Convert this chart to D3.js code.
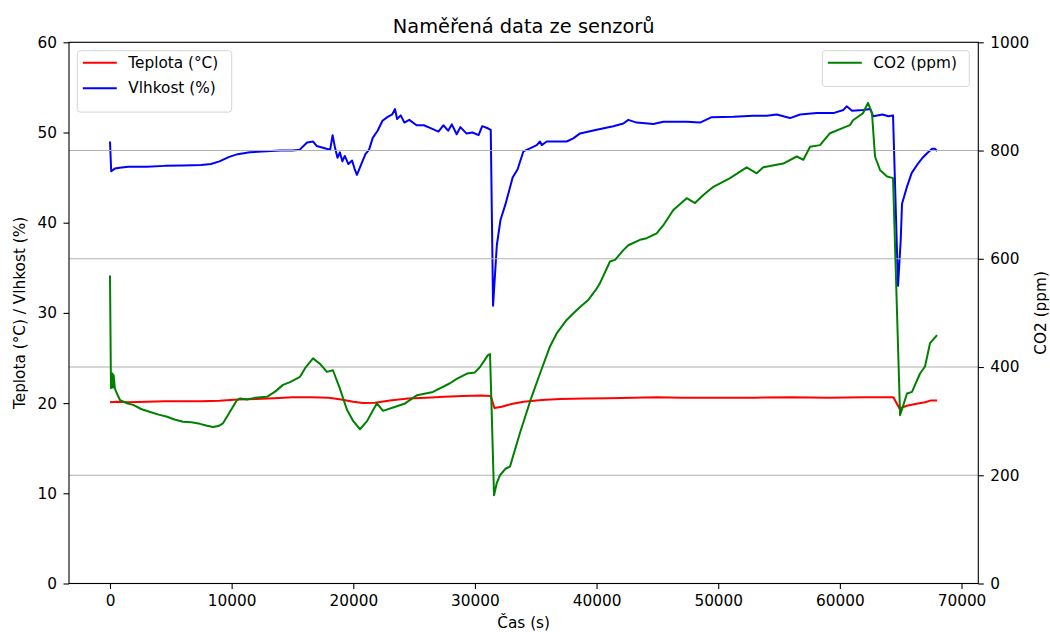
<!DOCTYPE html>
<html>
<head>
<meta charset="utf-8">
<script src="https://cdn.jsdelivr.net/npm/d3@7"></script>
<style>
  html, body { margin: 0; padding: 0; background: #ffffff; }
  svg { display: block; font-family: "DejaVu Sans", sans-serif; }
</style>
</head>
<body>
<svg id="chart" width="1050" height="632"></svg>
<script>
// Sensor log: time (s) and measured value
const teplota = [
  [0,20.1],[600,20.15],[1500,20.1],[3000,20.15],[4500,20.2],[6000,20.2],[7500,20.2],[9000,20.25],
  [10500,20.4],[12000,20.45],[13500,20.55],[15000,20.65],[16500,20.65],[18000,20.6],[19000,20.4],
  [20000,20.15],[20800,20.0],[21800,20.05],[23000,20.3],[24500,20.5],[26000,20.6],[27500,20.7],
  [29000,20.8],[30500,20.85],[31300,20.8],[31600,19.45],[32200,19.6],[33000,19.9],[34000,20.15],
  [35500,20.35],[37000,20.45],[39000,20.5],[41000,20.55],[43000,20.6],[45000,20.65],[47000,20.6],
  [50000,20.6],[53000,20.6],[56000,20.65],[59000,20.6],[62000,20.65],[64400,20.65],[64900,19.4],
  [65500,19.7],[66200,19.9],[67000,20.1],[67500,20.3],[68000,20.3]
];

const vlhkost = [
  [0,49.0],[100,45.7],[400,46.0],[800,46.1],[1500,46.2],[3000,46.2],[4500,46.3],[6000,46.35],
  [7500,46.4],[8300,46.5],[9000,46.8],[9800,47.3],[10500,47.6],[11500,47.8],[12500,47.9],[14000,48.0],
  [15000,48.0],[15600,48.1],[16200,48.9],[16700,49.0],[17000,48.5],[17800,48.2],[18100,48.1],
  [18300,49.7],[18500,48.3],[18700,47.2],[18900,47.8],[19100,46.8],[19300,47.4],[19600,46.5],
  [19900,46.9],[20100,46.0],[20300,45.3],[20600,46.3],[21000,47.6],[21300,48.1],[21600,49.4],
  [22000,50.2],[22400,51.3],[22800,51.7],[23200,52.0],[23430,52.6],[23600,51.5],[23900,51.9],
  [24200,51.1],[24600,51.4],[25200,50.8],[25800,50.8],[26500,50.4],[27000,50.1],[27400,50.8],
  [27800,50.2],[28100,50.9],[28500,49.8],[28800,50.6],[29300,49.9],[29800,50.0],[30300,49.7],
  [30600,50.7],[31000,50.5],[31300,50.3],[31490,30.8],[31800,37.5],[32100,40.3],[32500,42.0],
  [33100,45.0],[33500,45.9],[33980,47.9],[34530,48.25],[35080,48.6],[35350,49.0],[35490,48.6],
  [35900,49.0],[37540,49.0],[38090,49.35],[38640,49.9],[40010,50.3],[41380,50.7],[42200,51.0],
  [42610,51.4],[43300,51.1],[44670,50.95],[45490,51.2],[47410,51.2],[48510,51.1],[49460,51.7],
  [51250,51.75],[52890,51.85],[53990,51.85],[54810,52.0],[55900,51.6],[56730,52.0],[58100,52.15],
  [59460,52.15],[60290,52.5],[60560,52.9],[61000,52.4],[61900,52.5],[62500,52.6],[62750,51.8],
  [63500,52.0],[64000,51.8],[64370,51.9],[64780,33.0],[65000,38.0],[65110,42.1],[65520,44.0],
  [65900,45.5],[66340,46.4],[66800,47.2],[67170,47.7],[67580,48.2],[67800,48.2],[67990,47.95]
];

const co2 = [
  [0,569],[80,361],[200,388],[250,362],[300,385],[400,360],[575,351],[822,339],[1400,333],
  [1900,330],[2600,322],[3300,317],[4000,312],[4700,308],[5300,303],[6000,299],[6700,298],
  [7400,295],[7900,292],[8470,289],[8900,291],[9290,296],[9800,315],[10440,339],[10700,342],
  [11260,340],[11900,343],[12900,345],[13600,355],[14220,367],[14800,372],[15620,382],[16100,400],
  [16690,416],[17300,405],[17840,391],[18330,394],[18900,360],[19480,321],[20000,300],[20550,285],
  [21130,300],[21620,320],[21950,333],[22440,319],[23400,326],[24200,332],[25240,348],[26550,354],
  [27950,370],[28500,378],[29350,388],[30000,390],[30420,400],[31070,422],[31240,424],[31400,300],
  [31570,163],[31800,186],[32060,200],[32500,212],[32880,216],[33700,278],[34660,345],[35350,388],
  [36170,438],[36720,462],[37540,487],[37950,496],[38640,511],[39320,524],[40010,545],[40280,555],
  [41100,595],[41520,598],[42200,616],[42610,625],[43570,635],[44120,638],[44940,647],[45490,662],
  [46310,690],[47410,712],[48090,703],[48780,718],[49600,733],[50970,749],[52340,769],[53160,758],
  [53710,769],[55350,776],[56450,789],[57000,783],[57550,807],[58370,810],[59190,832],[60260,842],
  [60830,847],[61080,856],[61900,869],[62310,888],[62640,869],[62890,789],[63300,764],[63880,752],
  [64370,749],[64950,311],[65520,351],[65930,354],[66590,388],[67000,401],[67410,444],[67990,459]
];

const xTicks = [0, 10000, 20000, 30000, 40000, 50000, 60000, 70000];
const leftTicks = [0, 10, 20, 30, 40, 50, 60];
const rightTicks = [0, 200, 400, 600, 800, 1000];

const svg = d3.select("#chart");
const plotLeft = 69, plotRight = 978.3, plotTop = 42.3, plotBottom = 583.5;
const fontPx = 15.3, titlePx = 19.4;

const x = d3.scaleLinear().domain([-3370, 71380]).range([plotLeft, plotRight]);
const yL = d3.scaleLinear().domain([0, 60]).range([plotBottom, plotTop]);
const yR = d3.scaleLinear().domain([0, 1000]).range([plotBottom, plotTop]);

svg.append("rect").attr("width", 1050).attr("height", 632).attr("fill", "#ffffff");

svg.append("clipPath").attr("id", "plot-clip")
  .append("rect").attr("x", plotLeft).attr("y", plotTop)
  .attr("width", plotRight - plotLeft).attr("height", plotBottom - plotTop);

const lineL = d3.line().x(d => x(d[0])).y(d => yL(d[1]));
const lineR = d3.line().x(d => x(d[0])).y(d => yR(d[1]));

const plot = svg.append("g").attr("clip-path", "url(#plot-clip)");

// primary axis lines
plot.append("path").datum(teplota).attr("d", lineL)
  .attr("fill", "none").attr("stroke", "#ff0000").attr("stroke-width", 2).attr("stroke-linejoin", "round");
plot.append("path").datum(vlhkost).attr("d", lineL)
  .attr("fill", "none").attr("stroke", "#0000ff").attr("stroke-width", 2).attr("stroke-linejoin", "round");

// secondary axis grid
plot.append("g").selectAll("line").data(rightTicks).join("line")
  .attr("x1", plotLeft).attr("x2", plotRight)
  .attr("y1", d => yR(d)).attr("y2", d => yR(d))
  .attr("stroke", "#b0b0b0").attr("stroke-width", 1.1);

plot.append("path").datum(co2).attr("d", lineR)
  .attr("fill", "none").attr("stroke", "#008000").attr("stroke-width", 2).attr("stroke-linejoin", "round");

// axes
const tickLen = 5.5, pad = 6.5;
const axStyle = g => {
  g.select(".domain").remove();
  g.selectAll(".tick line").attr("stroke", "#000").attr("stroke-width", 1.1);
  g.selectAll(".tick text").attr("fill", "#000").attr("font-size", fontPx)
    .attr("font-family", "DejaVu Sans, sans-serif");
};

svg.append("g").attr("transform", `translate(0,${plotBottom})`)
  .call(d3.axisBottom(x).tickValues(xTicks).tickFormat(d3.format("d")).tickSize(tickLen).tickPadding(pad))
  .call(axStyle);
svg.append("g").attr("transform", `translate(${plotLeft},0)`)
  .call(d3.axisLeft(yL).tickValues(leftTicks).tickFormat(d3.format("d")).tickSize(tickLen).tickPadding(pad))
  .call(axStyle);
svg.append("g").attr("transform", `translate(${plotRight},0)`)
  .call(d3.axisRight(yR).tickValues(rightTicks).tickFormat(d3.format("d")).tickSize(tickLen).tickPadding(pad))
  .call(axStyle);

// spines
svg.append("rect").attr("x", plotLeft).attr("y", plotTop)
  .attr("width", plotRight - plotLeft).attr("height", plotBottom - plotTop)
  .attr("fill", "none").attr("stroke", "#000").attr("stroke-width", 1.1);

// titles
const midX = (plotLeft + plotRight) / 2, midY = (plotTop + plotBottom) / 2;
svg.append("text").attr("x", midX).attr("y", 32.5).attr("text-anchor", "middle")
  .attr("font-size", titlePx).attr("fill", "#000").text("Naměřená data ze senzorů");
svg.append("text").attr("x", midX).attr("y", 622.5).attr("text-anchor", "middle")
  .attr("dominant-baseline", "central").attr("font-size", fontPx).attr("fill", "#000").text("Čas (s)");
svg.append("text").attr("transform", `translate(19.5,${midY}) rotate(-90)`)
  .attr("text-anchor", "middle").attr("dominant-baseline", "central")
  .attr("font-size", fontPx).attr("fill", "#000").text("Teplota (°C) / Vlhkost (%)");
svg.append("text").attr("transform", `translate(1040.5,${midY}) rotate(-90)`)
  .attr("text-anchor", "middle").attr("dominant-baseline", "central")
  .attr("font-size", fontPx).attr("fill", "#000").text("CO2 (ppm)");

// legends
function legend(x0, y0, w, items) {
  const g = svg.append("g");
  const h = 8 + items.length * 25.7 + 2;
  g.append("rect").attr("x", x0).attr("y", y0).attr("width", w).attr("height", h)
    .attr("rx", 3).attr("fill", "rgba(255,255,255,0.8)").attr("stroke", "#d6d6d6").attr("stroke-width", 1);
  items.forEach((it, i) => {
    const cy = y0 + 12 + i * 25.6;
    g.append("line").attr("x1", x0 + 5.5).attr("x2", x0 + 39.5).attr("y1", cy).attr("y2", cy)
      .attr("stroke", it.color).attr("stroke-width", 2);
    g.append("text").attr("x", x0 + 51).attr("y", cy).attr("dominant-baseline", "central")
      .attr("font-size", fontPx).attr("fill", "#000").text(it.label);
  });
}
legend(77.3, 50.7, 154.4, [
  { label: "Teplota (°C)", color: "#ff0000" },
  { label: "Vlhkost (%)", color: "#0000ff" }
]);
legend(822.3, 50.7, 147, [
  { label: "CO2 (ppm)", color: "#008000" }
]);
</script>
</body>
</html>
